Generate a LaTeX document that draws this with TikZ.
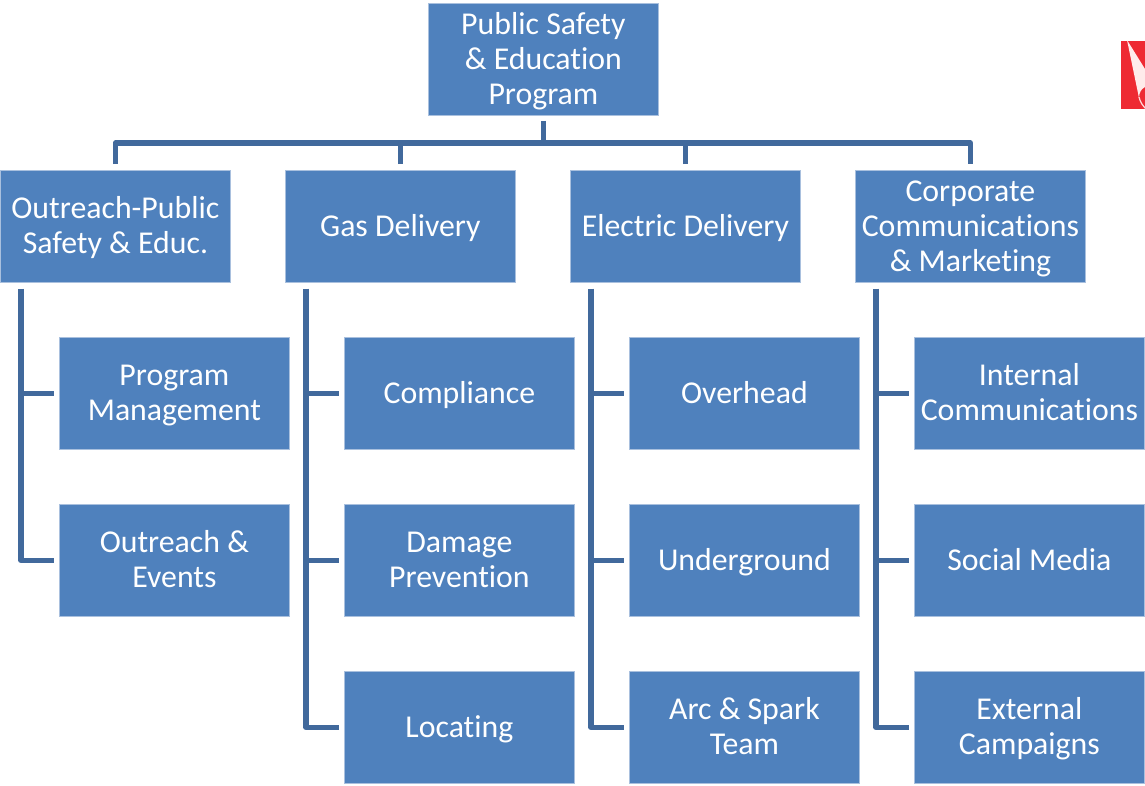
\documentclass[tikz,border=0pt]{standalone}
\usepackage{fontspec}
\setmainfont[Ligatures=NoCommon,Contextuals=NoAlternate]{Carlito}
\definecolor{boxfill}{HTML}{4F81BD}
\definecolor{boxedge}{HTML}{A9C0DE}
\definecolor{linkblue}{HTML}{41699C}
\definecolor{logored}{HTML}{EE2A33}
\newcommand{\ts}{\rule[-7.5pt]{0pt}{35pt}}
\tikzset{
  box/.style={rectangle,draw=boxedge,line width=0.8pt,fill=boxfill,text=white,minimum width=230pt,minimum height=112pt,align=center,inner sep=0pt,font=\fontsize{31.8}{35}\selectfont,anchor=north west},
  link/.style={draw=linkblue,line width=5.5pt,line join=round}
}
\begin{document}
\begin{tikzpicture}[x=1pt,y=-1pt]
\useasboundingbox (0,0) rectangle (1145,785);
\node[box] (root) at (428,3) {\ts Public Safety\\\ts\& Education\\\ts Program};
\node[box] (a) at (0,170) {\ts Outreach-Public\\\ts Safety \& Educ.};
\node[box] (b) at (285,170) {\ts Gas Delivery};
\node[box] (c) at (570,170) {\ts Electric Delivery};
\node[box] (d) at (855,170) {\ts Corporate\\\ts Communications\\\ts\& Marketing};
\node[box] (a1) at (59,337) {\ts Program\\\ts Management};
\node[box] (a2) at (59,504) {\ts Outreach \&\\\ts Events};
\node[box] (b1) at (344,337) {\ts Compliance};
\node[box] (b2) at (344,504) {\ts Damage\\\ts Prevention};
\node[box] (b3) at (344,671) {\ts Locating};
\node[box] (c1) at (629,337) {\ts Overhead};
\node[box] (c2) at (629,504) {\ts Underground};
\node[box] (c3) at (629,671) {\ts Arc \& Spark\\\ts Team};
\node[box] (d1) at (914,337) {\ts Internal\\\ts Communications};
\node[box] (d2) at (914,504) {\ts Social Media};
\node[box] (d3) at (914,671) {\ts External\\\ts Campaigns};
% top tree
\draw[link] ([yshift=-5pt]root.south) -- ([yshift=-28pt]root.south);
\draw[link] ([yshift=6pt]a.north) -- ([yshift=27pt]a.north) -- ([yshift=27pt]d.north) -- ([yshift=6pt]d.north);
\draw[link] ([yshift=6pt]b.north) -- ([yshift=27pt]b.north);
\draw[link] ([yshift=6pt]c.north) -- ([yshift=27pt]c.north);
% side trees
\foreach \p/\kids in {a/{a1,a2},b/{b1,b2,b3},c/{c1,c2,c3},d/{d1,d2,d3}}{
  \foreach \k in \kids {
    \draw[link] ([xshift=21pt,yshift=-6pt]\p.south west) |- ([xshift=-5pt]\k.west);
  }
}
% logo
\fill[logored] (1121,41) rectangle (1145,109);
\fill[white!92!red] (1127,40) -- (1145,69) -- (1145,87) .. controls (1141,89) and (1139,93) .. (1139,98) -- cycle;
\draw[white!85!red,line width=1.2pt] (1139,97) .. controls (1140,102) and (1143,106) .. (1146,109);
\end{tikzpicture}
\end{document}
